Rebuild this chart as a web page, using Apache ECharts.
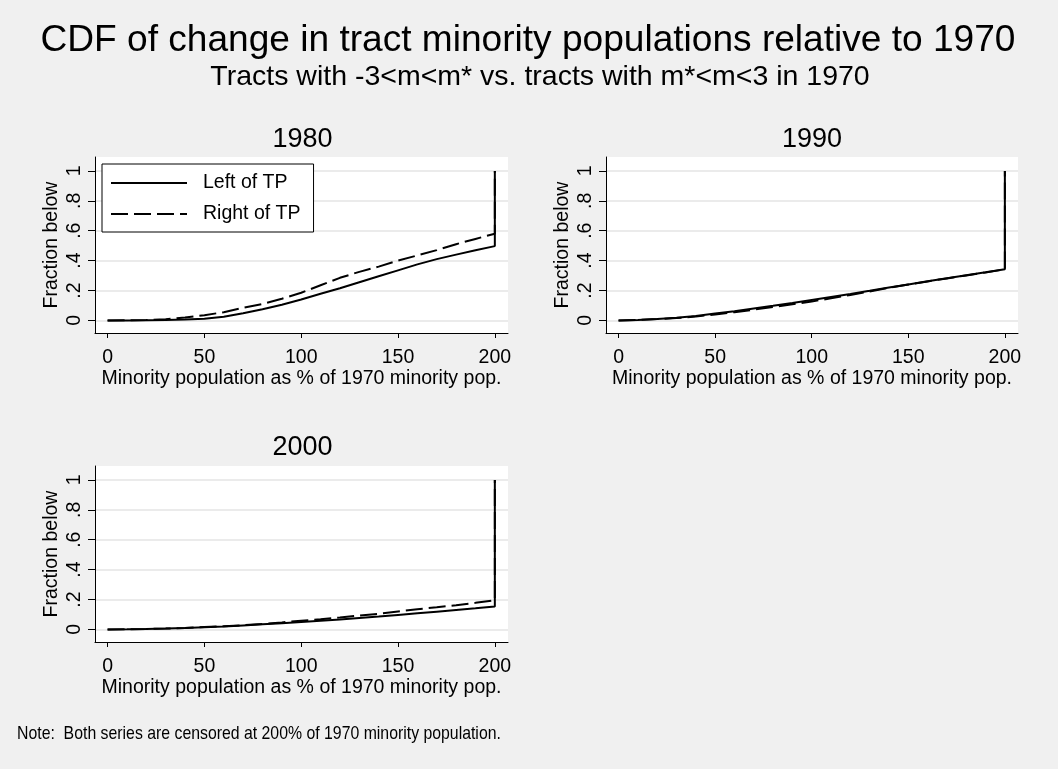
<!DOCTYPE html>
<html>
<head>
<meta charset="utf-8">
<style>
  html, body { margin: 0; padding: 0; background: #f0f0f0; }
  #chart { width: 1058px; height: 769px; }
</style>
<script src="https://cdn.jsdelivr.net/npm/echarts@6/dist/echarts.min.js"></script>
</head>
<body>
<div id="chart"></div>
<script>
// ---- data ----
const xValues = [0,10,20,30,40,50,60,70,80,90,100,110,120,130,140,150,160,170,180,190,200,200];
const left1980  = [0,0,0.001,0.003,0.006,0.012,0.025,0.048,0.075,0.105,0.14,0.178,0.215,0.255,0.295,0.335,0.375,0.41,0.44,0.47,0.497,1];
const right1980 = [0,0.001,0.003,0.008,0.02,0.035,0.055,0.085,0.11,0.145,0.185,0.235,0.285,0.325,0.36,0.4,0.435,0.47,0.51,0.545,0.58,1];
const left1990  = [0,0.003,0.01,0.018,0.03,0.047,0.062,0.08,0.098,0.117,0.137,0.157,0.177,0.198,0.22,0.241,0.262,0.282,0.302,0.322,0.343,1];
const right1990 = [0,0.003,0.009,0.016,0.026,0.04,0.055,0.072,0.09,0.108,0.127,0.148,0.17,0.194,0.218,0.24,0.261,0.281,0.301,0.321,0.342,1];
const left2000  = [0,0.001,0.003,0.006,0.01,0.015,0.02,0.027,0.034,0.042,0.05,0.058,0.066,0.076,0.086,0.097,0.108,0.119,0.13,0.141,0.153,1];
const right2000 = [0,0.001,0.003,0.006,0.01,0.016,0.021,0.028,0.037,0.047,0.058,0.068,0.08,0.093,0.105,0.12,0.135,0.148,0.162,0.178,0.195,1];
const panelTitles = ['1980','1990','2000'];
const seriesNames = ['Left of TP','Right of TP'];
const xTicks = [0,50,100,150,200];
const yTicks = [0,0.2,0.4,0.6,0.8,1];
const mainTitle = 'CDF of change in tract minority populations relative to 1970';
const subTitle = 'Tracts with -3<m<m* vs. tracts with m*<m<3 in 1970';
const xAxisTitle = 'Minority population as % of 1970 minority pop.';
const yAxisTitle = 'Fraction below';
const noteText = 'Note:  Both series are censored at 200% of 1970 minority population.';

// ---- layout ----
const FONT = '"Liberation Sans", Arial, sans-serif';
const grids = [
  { left: 95,  top: 157, width: 413, height: 176 },
  { left: 606, top: 157, width: 412, height: 176 },
  { left: 95,  top: 466, width: 413, height: 176 }
];
const panelData = [[left1980, right1980],[left1990, right1990],[left2000, right2000]];

function yFmt(v) {
  if (v === 0) return '0';
  if (v === 1) return '1';
  return String(+v.toFixed(1)).replace(/^0/, '');
}

const xAxes = grids.map((g, i) => ({
  type: 'value', gridIndex: i, min: -6.5, max: 206.8,
  name: xAxisTitle, nameLocation: 'middle', nameGap: 35,
  nameTextStyle: { fontFamily: FONT, fontSize: 19.5, color: '#000' },
  axisLine: { show: true, onZero: false, lineStyle: { color: '#000', width: 1 } },
  axisTick: { show: true, length: 5, customValues: xTicks, lineStyle: { color: '#000', width: 1 } },
  axisLabel: { customValues: xTicks, margin: 15, fontFamily: FONT, fontSize: 19.5, color: '#000' },
  splitLine: { show: false }
}));
const yAxes = grids.map((g, i) => ({
  type: 'value', gridIndex: i, min: -0.084, max: 1.093,
  name: yAxisTitle, nameLocation: 'middle', nameGap: 33, nameRotate: 90,
  nameTextStyle: { fontFamily: FONT, fontSize: 19.5, color: '#000' },
  axisLine: { show: true, onZero: false, lineStyle: { color: '#000', width: 1 } },
  axisTick: { show: true, length: 7, customValues: yTicks, lineStyle: { color: '#000', width: 1 } },
  axisLabel: { customValues: yTicks, rotate: 90, margin: 10, fontFamily: FONT, fontSize: 19.5, color: '#000', formatter: yFmt },
  splitLine: { show: true, lineStyle: { color: '#e4e4e4', width: 1.5 } }
}));

const series = [];
panelData.forEach((pair, i) => {
  pair.forEach((vals, k) => {
    series.push({
      type: 'line', name: seriesNames[k], xAxisIndex: i, yAxisIndex: i,
      data: xValues.map((x, j) => [x, vals[j]]),
      symbol: 'none', showSymbol: false, z: k === 0 ? 3 : 2,
      lineStyle: { color: '#000', width: 2, type: k === 0 ? 'solid' : [17, 6] },
      itemStyle: { color: '#000' }
    });
  });
});

const texts = [
  { t: mainTitle, x: 528, y: 41, size: 36, sx: 1.03 },
  { t: subTitle, x: 540, y: 77, size: 28.5, sx: 1 },
  { t: panelTitles[0], x: 302.5, y: 140, size: 27, sx: 1 },
  { t: panelTitles[1], x: 812, y: 140, size: 27, sx: 1 },
  { t: panelTitles[2], x: 302.5, y: 448, size: 27, sx: 1 }
];
const graphic = texts.map(o => ({
  type: 'text', x: o.x, y: o.y, scaleX: o.sx, silent: true,
  style: { text: o.t, font: o.size + 'px ' + FONT, fill: '#000', align: 'center', verticalAlign: 'middle' }
}));
graphic.push({
  type: 'text', x: 17, y: 734, scaleX: 0.833, silent: true,
  style: { text: noteText, font: '19px ' + FONT, fill: '#000', align: 'left', verticalAlign: 'middle' }
});

const chart = echarts.init(document.getElementById('chart'), null, { renderer: 'canvas' });
chart.setOption({
  backgroundColor: '#f0f0f0',
  animation: false,
  grid: grids.map(g => Object.assign({ show: true, backgroundColor: '#ffffff', borderWidth: 0 }, g)),
  xAxis: xAxes,
  yAxis: yAxes,
  legend: {
    data: seriesNames, left: 102, top: 164, orient: 'vertical',
    borderColor: '#000', borderWidth: 1, backgroundColor: '#fff',
    padding: [9, 13, 8, 8], itemGap: 11, itemWidth: 76, itemHeight: 20,
    itemStyle: { opacity: 0 },
    textStyle: { fontFamily: FONT, fontSize: 19.5, color: '#000', padding: [0, 0, 0, 11] },
    selectedMode: false
  },
  series: series,
  graphic: graphic
});
</script>
</body>
</html>
